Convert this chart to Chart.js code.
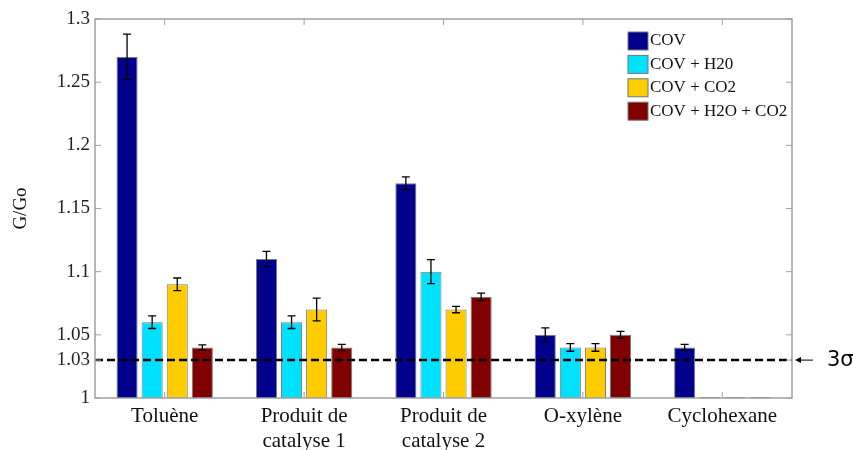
<!DOCTYPE html>
<html>
<head>
<meta charset="utf-8">
<script src="https://cdn.jsdelivr.net/npm/chart.js@4.4.0/dist/chart.umd.min.js"></script>
<style>
  html, body { margin: 0; padding: 0; background: #fff; }
</style>
</head>
<body>
<canvas id="barChart" width="853" height="450"></canvas>
<script>
// data
const categories = ['Toluène', ['Produit de', 'catalyse 1'], ['Produit de', 'catalyse 2'], 'O-xylène', 'Cyclohexane'];
const seriesNames = ['COV', 'COV + H20', 'COV + CO2', 'COV + H2O + CO2'];
const cov       = [1.27, 1.11, 1.17, 1.05, 1.04];
const covH2o    = [1.06, 1.06, 1.10, 1.04, 1.0008];
const covCo2    = [1.09, 1.07, 1.07, 1.04, 1.0008];
const covAll    = [1.04, 1.04, 1.08, 1.05, 1.0008];
const errCov    = [0.018, 0.006, 0.005, 0.0055, 0.0025];
const errH2o    = [0.005, 0.005, 0.0095, 0.003, 0];
const errCo2    = [0.005, 0.009, 0.0025, 0.003, 0];
const errAll    = [0.002, 0.0025, 0.003, 0.0027, 0];
const yTicks      = [1, 1.03, 1.05, 1.1, 1.15, 1.2, 1.25, 1.3];
const yTickLabels = ['1', '1.03', '1.05', '1.1', '1.15', '1.2', '1.25', '1.3'];
const threshold = 1.03;
const thresholdLabel = '3σ';

const colors = ['#00008c', '#00e0ff', '#ffcc00', '#800000'];
const errors = [errCov, errH2o, errCo2, errAll];
const serif = '"Liberation Serif", "DejaVu Serif", serif';

const extras = {
  id: 'extras',
  afterDatasetsDraw(chart) {
    const ctx = chart.ctx;
    const y = chart.scales.y;
    const area = chart.chartArea;
    ctx.save();
    // error bars
    ctx.strokeStyle = '#000';
    ctx.lineWidth = 1.3;
    chart.data.datasets.forEach((ds, i) => {
      const meta = chart.getDatasetMeta(i);
      meta.data.forEach((bar, j) => {
        const e = errors[i][j];
        if (!e) return;
        const v = ds.data[j];
        const y1 = y.getPixelForValue(v + e);
        const y2 = y.getPixelForValue(v - e);
        ctx.beginPath();
        ctx.moveTo(bar.x, y1); ctx.lineTo(bar.x, y2);
        ctx.moveTo(bar.x - 4, y1); ctx.lineTo(bar.x + 4, y1);
        ctx.moveTo(bar.x - 4, y2); ctx.lineTo(bar.x + 4, y2);
        ctx.stroke();
      });
    });
    // threshold line
    const ty = y.getPixelForValue(threshold);
    ctx.setLineDash([8, 4]);
    ctx.lineWidth = 2.5;
    ctx.beginPath();
    ctx.moveTo(area.left, ty); ctx.lineTo(area.right, ty);
    ctx.stroke();
    ctx.setLineDash([]);
    // arrow and label
    ctx.lineWidth = 1;
    ctx.beginPath();
    ctx.moveTo(area.right + 21, ty); ctx.lineTo(area.right + 6, ty);
    ctx.stroke();
    ctx.beginPath();
    ctx.moveTo(area.right + 3, ty);
    ctx.lineTo(area.right + 9, ty - 3);
    ctx.lineTo(area.right + 9, ty + 3);
    ctx.closePath();
    ctx.fillStyle = '#000';
    ctx.fill();
    ctx.font = '21px "DejaVu Sans", sans-serif';
    ctx.textBaseline = 'middle';
    ctx.fillText(thresholdLabel, area.right + 35, ty);
    ctx.restore();
  },
  afterDraw(chart) {
    const ctx = chart.ctx;
    const area = chart.chartArea;
    const y = chart.scales.y;
    const x = chart.scales.x;
    ctx.save();
    // frame with inward ticks
    ctx.strokeStyle = '#a0a0a0';
    ctx.lineWidth = 1.5;
    ctx.strokeRect(area.left, area.top, area.right - area.left, area.bottom - area.top);
    ctx.lineWidth = 1;
    ctx.beginPath();
    yTicks.forEach(v => {
      const py = y.getPixelForValue(v);
      ctx.moveTo(area.left, py); ctx.lineTo(area.left + 6, py);
      ctx.moveTo(area.right, py); ctx.lineTo(area.right - 6, py);
    });
    categories.forEach((c, i) => {
      const px = x.getPixelForValue(i);
      ctx.moveTo(px, area.bottom); ctx.lineTo(px, area.bottom - 6);
      ctx.moveTo(px, area.top); ctx.lineTo(px, area.top + 6);
    });
    ctx.stroke();
    // legend
    ctx.font = '17px ' + serif;
    ctx.textBaseline = 'middle';
    seriesNames.forEach((name, i) => {
      const ly = 41 + i * 23.4;
      ctx.fillStyle = colors[i];
      ctx.fillRect(628, ly - 9, 20, 18);
      ctx.strokeStyle = '#777';
      ctx.strokeRect(628, ly - 9, 20, 18);
      ctx.fillStyle = '#111';
      ctx.fillText(name, 650, ly);
    });
    ctx.restore();
  }
};

const chart = new Chart(document.getElementById('barChart').getContext('2d'), {
  type: 'bar',
  data: {
    labels: categories,
    datasets: [cov, covH2o, covCo2, covAll].map((d, i) => ({
      label: seriesNames[i],
      data: d,
      backgroundColor: colors[i],
      borderColor: 'rgba(90,90,90,0.8)',
      borderWidth: 1,
      borderSkipped: 'bottom',
      categoryPercentage: 0.72,
      barPercentage: 0.84,
    })),
  },
  options: {
    responsive: false,
    animation: false,
    layout: { padding: { left: 0, top: 19, right: 61, bottom: 0 } },
    plugins: {
      legend: { display: false },
      tooltip: { enabled: false },
    },
    scales: {
      x: {
        grid: { display: false, drawTicks: false },
        border: { display: false },
        ticks: { color: '#111', font: { family: serif, size: 21, lineHeight: 1.2 }, padding: 6, maxRotation: 0 },
        afterFit: s => { s.height = 52; },
      },
      y: {
        min: 1,
        max: 1.3,
        grid: { display: false, drawTicks: false },
        border: { display: false },
        afterBuildTicks: axis => { axis.ticks = yTicks.map(v => ({ value: v })); },
        ticks: {
          color: '#222',
          font: { family: serif, size: 19 },
          padding: 5,
          callback: (v, i) => yTickLabels[i],
        },
        title: { display: true, text: 'G/Go', color: '#111', font: { family: serif, size: 19 }, padding: { top: 10, bottom: 0 } },
        afterFit: s => { s.width = 95; },
      },
    },
  },
  plugins: [extras],
});
</script>
</body>
</html>
